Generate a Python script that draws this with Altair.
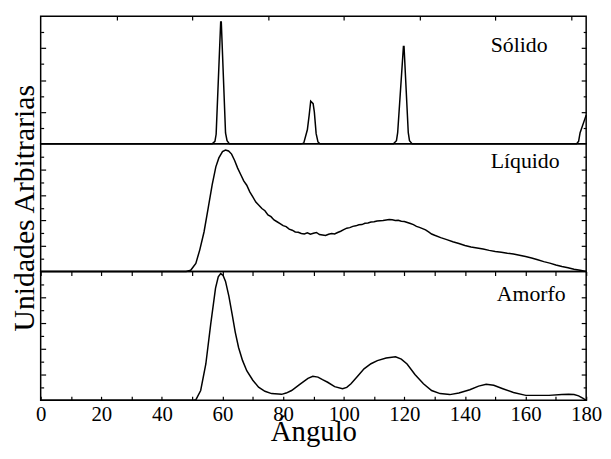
import altair as alt
import pandas as pd

FONT = "Liberation Serif"

# ---- data ----
solid_angle = [0, 56.6, 57.5, 57.9, 59.4, 59.6, 61.0, 61.5, 62.3,
               85.8, 86.8, 88.0, 88.6, 89.1, 89.9, 90.3, 90.9, 91.5, 92.2,
               116.4, 117.4, 117.8, 119.7, 119.9, 121.3, 121.7, 122.6,
               176.8, 177.5, 178.0, 180]
solid_value = [0, 0, 0.08, 0.3, 3.82, 3.82, 0.34, 0.1, 0,
               0, 0.02, 0.44, 0.9, 1.34, 1.26, 1.0, 0.32, 0.06, 0,
               0, 0.1, 0.35, 3.05, 3.05, 0.35, 0.1, 0,
               0, 0.08, 0.35, 0.9]

liquid_angle = [0, 48.0, 49.5, 51.2, 52.5, 53.9, 55.3, 56.6, 57.8, 58.8, 60.0, 61.0,
                62, 63, 64, 65, 66, 67, 68, 69, 70, 71, 72, 73, 74, 75, 76, 77, 78, 79,
                80, 81, 82, 83, 84, 85, 86, 87, 88, 89, 90, 91, 92, 93, 94, 95, 96, 97,
                98, 99, 100, 101, 102, 103, 104, 105, 106, 107, 108, 109, 110, 111, 112,
                113, 114, 115, 116, 117, 118, 119, 120, 121, 122, 123, 124, 125, 126,
                127, 128, 129, 130, 132, 134, 136, 138, 140, 142, 144, 146, 148, 150,
                152, 154, 156, 158, 160, 162, 164, 166, 168, 170, 172, 174, 176, 178, 180]
liquid_value = [0, 0, 0.05, 0.32, 0.85, 1.55, 2.5, 3.4, 4.1, 4.45, 4.7, 4.76,
                4.72, 4.6, 4.35, 4.05, 3.8, 3.55, 3.38, 3.12, 2.92, 2.72, 2.6, 2.47, 2.38,
                2.22, 2.15, 2.02, 1.95, 1.88,
                1.8, 1.76, 1.66, 1.62, 1.55, 1.54, 1.49, 1.47, 1.52, 1.46, 1.5, 1.53,
                1.45, 1.43, 1.41, 1.46, 1.49, 1.47,
                1.53, 1.58, 1.64, 1.7, 1.72, 1.77, 1.79, 1.83, 1.84, 1.89, 1.9, 1.94,
                1.95, 1.98, 1.99,
                2.0, 2.02, 2.04, 2.03, 2.0, 2.01, 1.97, 1.96, 1.92, 1.88, 1.84, 1.77,
                1.73, 1.68,
                1.63, 1.55, 1.47, 1.42, 1.33, 1.25, 1.17, 1.1, 1.02, 0.96, 0.92, 0.88,
                0.83, 0.79,
                0.76, 0.72, 0.69, 0.64, 0.59, 0.53, 0.46, 0.39, 0.33, 0.26, 0.2, 0.15,
                0.09, 0.05, 0]

amorph_angle = [0, 50.5, 51.2, 52.8, 54.5, 56.1, 57.7, 58.6, 59.4, 60.2, 61.0, 62.1, 63.2,
                64.2, 65.3, 66.6, 68.0, 70.0, 71.9, 74.0, 76.2, 79.5, 81.0, 82.8, 85.5,
                88.2, 89.8, 91.5, 93.0, 94.7, 97.0, 99.6, 101.0, 102.4, 104.5, 106.7,
                109.0, 111.1, 114.0, 117.1, 119.0, 120.9, 123.5, 126.3, 129.0, 131.8,
                135.0, 138.0, 141.6, 144.5, 147.0, 149.5, 152.5, 156.0, 160.1, 167.7,
                172.0, 174.2, 176.0, 177.5, 179.0, 180]
amorph_value = [0, 0, 0.02, 0.38, 1.41, 2.95, 4.36, 4.8, 4.92, 4.85, 4.62, 4.05, 3.33,
                2.65, 2.05, 1.55, 1.15, 0.78, 0.51, 0.35, 0.26, 0.23, 0.28, 0.38, 0.62,
                0.85, 0.93, 0.9, 0.8, 0.7, 0.53, 0.45, 0.5, 0.64, 0.92, 1.22,
                1.42, 1.54, 1.64, 1.69, 1.6, 1.41, 1.0, 0.64, 0.38, 0.26,
                0.22, 0.28, 0.41, 0.55, 0.62, 0.58, 0.45, 0.3, 0.19, 0.19,
                0.22, 0.23, 0.22, 0.17, 0.07, 0]

panel_names = ["Sólido", "Líquido", "Amorfo"]
solid_top_ticks = [25, 50, 75, 100, 125, 150, 175]
angle_ticks = list(range(0, 181, 10))
y_title = "Unidades Arbitrarias"
x_title = "Ángulo"

W = 551


def yaxis(orient, values, size, **kw):
    opts = dict(orient=orient, values=values, tickSize=size, offset=-size,
                domain=False, labels=False, grid=False, tickColor="black",
                tickWidth=1.2)
    if "title" not in kw:
        opts["title"] = None
    opts.update(kw)
    return alt.Axis(**opts)


def xaxis(orient, values, size=4, **kw):
    opts = dict(orient=orient, values=values, tickSize=size, offset=-size,
                domain=False, grid=False, tickColor="black", tickWidth=1.2,
                labels=False)
    if "title" not in kw:
        opts["title"] = None
    opts.update(kw)
    return alt.Axis(**opts)


def panel(angles, values, ymax, h, name, name_x, name_y, xA=None, xB=None, ytitle=None):
    df = pd.DataFrame({"angle": angles, "value": values})
    xs = alt.Scale(domain=[0, 180], nice=False, zero=False)
    ys = alt.Scale(domain=[0, ymax], nice=False, zero=False)
    major = list(range(1, ymax))
    minor = [v + 0.5 for v in range(0, ymax)]
    ykw = {}
    if ytitle:
        ykw = dict(title=ytitle, titleX=-12, titleY=h / 2, titleAngle=270,
                   titleAlign="center", titleBaseline="alphabetic",
                   titleFont=FONT, titleFontSize=30, titleFontWeight="normal",
                   titleColor="black")
    A = alt.Chart(df).mark_line(color="black", strokeWidth=1.5).encode(
        x=alt.X("angle:Q", scale=xs, axis=xA),
        y=alt.Y("value:Q", scale=ys, axis=yaxis("left", major, 5, **ykw)),
    )
    B = alt.Chart(df).mark_line(strokeOpacity=0).encode(
        x=alt.X("angle:Q", scale=xs, axis=xB),
        y=alt.Y("value:Q", scale=ys, axis=yaxis("left", minor, 3)),
    )
    C = alt.Chart(df).mark_line(strokeOpacity=0).encode(
        x=alt.X("angle:Q", scale=xs, axis=None),
        y=alt.Y("value:Q", scale=ys, axis=yaxis("right", major, 5)),
    )
    D = alt.Chart(df).mark_line(strokeOpacity=0).encode(
        x=alt.X("angle:Q", scale=xs, axis=None),
        y=alt.Y("value:Q", scale=ys, axis=yaxis("right", minor, 3)),
    )
    tdf = pd.DataFrame({"angle": [name_x], "value": [name_y], "name": [name]})
    T = alt.Chart(tdf).mark_text(align="left", baseline="alphabetic", font=FONT,
                                 fontSize=22, color="black").encode(
        x=alt.X("angle:Q", scale=xs, axis=None),
        y=alt.Y("value:Q", scale=ys, axis=None),
        text="name:N",
    )
    return alt.layer(A, B, C, D, T).resolve_axis(x="independent", y="independent").properties(
        width=W, height=h)


p1 = panel(solid_angle, solid_value, 4, 129, panel_names[0], 148.5, 2.89,
           xA=xaxis("top", solid_top_ticks))
p2 = panel(liquid_angle, liquid_value, 5, 129, panel_names[1], 148.5, 4.07,
           ytitle=y_title)
bottom_axis = xaxis("bottom", angle_ticks, labels=True,
                    labelExpr="datum.value % 20 === 0 ? datum.label : ''",
                    labelFont=FONT, labelFontSize=21, labelColor="black",
                    labelPadding=3, labelFlush=False, labelOverlap=False,
                    title=x_title, titleFont=FONT, titleFontSize=29,
                    titleFontWeight="normal", titleColor="black",
                    titleY=45, titleBaseline="alphabetic")
p3 = panel(amorph_angle, amorph_value, 5, 130, panel_names[2], 150.5, 3.85,
           xA=bottom_axis, xB=xaxis("top", angle_ticks))

chart = alt.vconcat(p1, p2, p3, spacing=0, bounds="flush").properties(
    padding={"left": 1, "top": 4, "right": 0, "bottom": 0}
).configure_view(stroke="black", strokeWidth=1.5)

chart.save("out.html", embed_options={"renderer": "svg", "actions": False})
